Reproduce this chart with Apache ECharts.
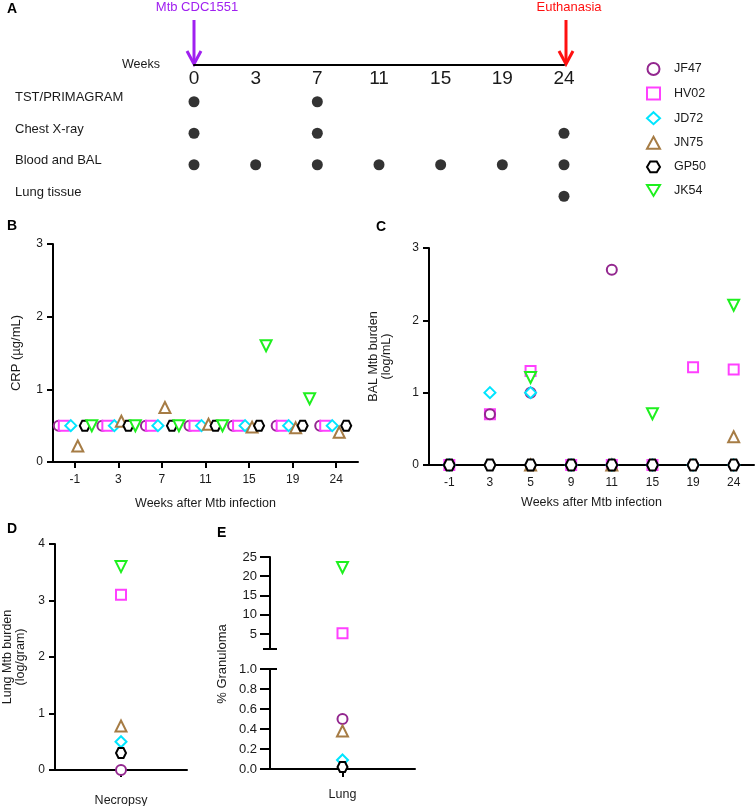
<!DOCTYPE html>
<html>
<head>
<meta charset="utf-8">
<script src="https://cdn.jsdelivr.net/npm/echarts@6/dist/echarts.min.js"></script>
<style>
  html, body { margin: 0; padding: 0; background: #fff; }
  #chart { width: 755px; height: 806px; }
</style>
</head>
<body>
<div id="chart"></div>
<script>
// animals
const animals = ['JF47', 'HV02', 'JD72', 'JN75', 'GP50', 'JK54'];

// A: study timeline
const timelineWeeks = ['0', '3', '7', '11', '15', '19', '24'];
const scheduleRows = ['TST/PRIMAGRAM', 'Chest X-ray', 'Blood and BAL', 'Lung tissue'];
const tstWeeks = ['0', '7'];
const xrayWeeks = ['0', '7', '24'];
const bloodBalWeeks = ['0', '3', '7', '11', '15', '19', '24'];
const lungTissueWeeks = ['24'];

// B: CRP (ug/mL)
const crpWeeks = ['-1', '3', '7', '11', '15', '19', '24'];
const crpJF47 = [0.5, 0.5, 0.5, 0.5, 0.5, 0.5, 0.5];
const crpHV02 = [0.5, 0.5, 0.5, 0.5, 0.5, 0.5, 0.5];
const crpJD72 = [0.5, 0.5, 0.5, 0.5, 0.5, 0.5, 0.5];
const crpJN75 = [0.22, 0.56, 0.75, 0.52, 0.48, 0.47, 0.41];
const crpGP50 = [0.5, 0.5, 0.5, 0.5, 0.5, 0.5, 0.5];
const crpJK54 = [0.5, 0.5, 0.5, 0.5, 1.6, 0.87, null];

// C: BAL Mtb burden (log/mL); null = no mark visible
const balWeeks = ['-1', '3', '5', '9', '11', '15', '19', '24'];
const balJF47 = [0, 0.7, 1.0, 0, 2.7, 0, 0, 0];
const balHV02 = [0, 0.7, 1.3, 0, 0, 0, 1.35, 1.32];
const balJD72 = [0, 1.0, 1.0, 0, 0, 0, 0, 0];
const balJN75 = [null, null, 0, null, 0, null, null, 0.39];
const balGP50 = [0, 0, 0, 0, 0, 0, 0, 0];
const balJK54 = [null, null, 1.21, null, null, 0.71, null, 2.21];

// D: lung Mtb burden (log/gram), order of animals
const lungBurden = [0, 3.1, 0.5, 0.78, 0.3, 3.6];
// E: % granuloma, order of animals
const granuloma = [0.5, 5.2, 0.09, 0.38, 0.02, 22.3];
const granulomaUpperTicks = [5, 10, 15, 20, 25];

// styles
const FONT = 'Liberation Sans, Arial, Helvetica, sans-serif';
const INK = '#1a1a1a';
const HEX = 'path://M3,0 L9,0 L12,5 L9,10 L3,10 L0,5 Z';
const DOWN = 'path://M0,0 L12,0 L6,10 Z';
const animalColors = ['#93278F', '#FF40FF', '#00E5FF', '#A67C45', '#000000', '#1EF01E'];
const animalSymbols = ['circle', 'rect', 'diamond', 'triangle', HEX, DOWN];
const animalSizes = [10, 10, 11, 11, 10, 11];
const crpOffsets = [-16, -11, -4, 3, 10, 17];
const balZ = [5, 2, 6, 3, 7, 4];

const crpData = [crpJF47, crpHV02, crpJD72, crpJN75, crpGP50, crpJK54];
const balData = [balJF47, balHV02, balJD72, balJN75, balGP50, balJK54];

function pairs(cats, vals) {
  return cats.map((c, i) => [c, vals[i]]).filter(p => p[1] != null);
}

function animalSeries(i, data, xi, yi, extra) {
  return Object.assign({
    type: 'scatter',
    name: animals[i],
    data: data,
    xAxisIndex: xi,
    yAxisIndex: yi,
    symbol: animalSymbols[i],
    symbolSize: animalSizes[i],
    itemStyle: { color: '#fff', borderColor: animalColors[i], borderWidth: 2, opacity: 1 },
    emphasis: { disabled: true },
    z: 3
  }, extra || {});
}

function axisBase(extra) {
  return Object.assign({
    axisLine: { show: true, onZero: false, lineStyle: { color: '#000', width: 2 } },
    axisTick: { show: true, length: 6, lineStyle: { color: '#000', width: 2 } },
    axisLabel: { color: INK, fontSize: 12, fontFamily: FONT },
    splitLine: { show: false },
    nameTextStyle: { color: INK, fontSize: 12.5, fontFamily: FONT }
  }, extra);
}

function scheduleSeries(weeks, row) {
  return {
    type: 'scatter',
    data: weeks.map(w => [w, row]),
    xAxisIndex: 0,
    yAxisIndex: 0,
    symbol: 'circle',
    symbolSize: 11,
    itemStyle: { color: '#000' },
    emphasis: { disabled: true }
  };
}

const chart = echarts.init(document.getElementById('chart'));

const series = [
  scheduleSeries(tstWeeks, scheduleRows[0]),
  scheduleSeries(xrayWeeks, scheduleRows[1]),
  scheduleSeries(bloodBalWeeks, scheduleRows[2]),
  scheduleSeries(lungTissueWeeks, scheduleRows[3])
];

animals.forEach((a, i) => {
  series.push(animalSeries(i, pairs(crpWeeks, crpData[i]), 1, 1, { symbolOffset: [crpOffsets[i], 0] }));
});
animals.forEach((a, i) => {
  const extra = { z: balZ[i] };
  if (a === 'GP50') extra.symbolSize = 11;
  series.push(animalSeries(i, pairs(balWeeks, balData[i]), 2, 2, extra));
});
animals.forEach((a, i) => {
  series.push(animalSeries(i, [['Necropsy', lungBurden[i]]], 3, 3));
});
animals.forEach((a, i) => {
  const v = granuloma[i];
  if (v > 1) series.push(animalSeries(i, [['Lung', v]], 4, 4));
  else series.push(animalSeries(i, [['Lung', v]], 5, 5));
});

const option = {
  animation: false,
  backgroundColor: '#fff',
  textStyle: { fontFamily: FONT },
  legend: {
    data: animals,
    orient: 'vertical',
    left: 641,
    top: 57,
    itemWidth: 13,
    itemHeight: 12,
    itemGap: 10.6,
    selectedMode: false,
    textStyle: { color: INK, fontSize: 12.5, fontFamily: FONT, padding: [0, 0, 0, 9] }
  },
  grid: [
    { left: 194, top: 86, width: 370, height: 126, outerBoundsMode: 'none' },
    { left: 53, top: 244, width: 305, height: 218, outerBoundsMode: 'none' },
    { left: 429, top: 248, width: 325, height: 217, outerBoundsMode: 'none' },
    { left: 55, top: 544, width: 132, height: 226, outerBoundsMode: 'none' },
    { left: 270, top: 557, width: 145, height: 92, outerBoundsMode: 'none' },
    { left: 270, top: 669, width: 145, height: 100, outerBoundsMode: 'none' }
  ],
  xAxis: [
    axisBase({
      gridIndex: 0, type: 'category', data: timelineWeeks, position: 'top', offset: 21,
      boundaryGap: false,
      axisTick: { show: false },
      axisLabel: { inside: true, margin: 4, color: INK, fontSize: 19, fontFamily: FONT },
      name: 'Weeks', nameLocation: 'start', nameGap: 34
    }),
    axisBase({
      gridIndex: 1, type: 'category', data: crpWeeks,
      axisTick: { show: true, alignWithLabel: true, length: 6, lineStyle: { color: '#000', width: 2 } },
      axisLabel: { margin: 12, color: INK, fontSize: 12, fontFamily: FONT },
      name: 'Weeks after Mtb infection', nameLocation: 'middle', nameGap: 35
    }),
    axisBase({
      gridIndex: 2, type: 'category', data: balWeeks,
      axisTick: { show: true, alignWithLabel: true, length: 6, lineStyle: { color: '#000', width: 2 } },
      axisLabel: { margin: 12, color: INK, fontSize: 12, fontFamily: FONT },
      name: 'Weeks after Mtb infection', nameLocation: 'middle', nameGap: 31
    }),
    axisBase({
      gridIndex: 3, type: 'category', data: ['Necropsy'],
      axisTick: { show: true, alignWithLabel: true, length: 7, lineStyle: { color: '#000', width: 2 } },
      axisLabel: { margin: 24, color: INK, fontSize: 12.5, fontFamily: FONT }
    }),
    { gridIndex: 4, type: 'category', data: ['Lung'], show: false },
    axisBase({
      gridIndex: 5, type: 'category', data: ['Lung'],
      axisTick: { show: true, alignWithLabel: true, length: 8, lineStyle: { color: '#000', width: 2 } },
      axisLabel: { margin: 19, color: INK, fontSize: 12.5, fontFamily: FONT }
    })
  ],
  yAxis: [
    {
      gridIndex: 0, type: 'category', data: scheduleRows, inverse: true,
      axisLine: { show: false }, axisTick: { show: false }, splitLine: { show: false },
      axisLabel: { align: 'left', verticalAlign: 'bottom', lineHeight: 8, margin: 179, color: INK, fontSize: 13, fontFamily: FONT }
    },
    axisBase({
      gridIndex: 1, type: 'value', min: 0, max: 3, interval: 1,
      axisLabel: { margin: 10, color: INK, fontSize: 12, fontFamily: FONT },
      name: 'CRP (µg/mL)', nameLocation: 'middle', nameGap: 30, nameRotate: 90,
      nameTextStyle: { color: INK, fontSize: 13, fontFamily: FONT }
    }),
    axisBase({
      gridIndex: 2, type: 'value', min: 0, max: 3, interval: 1,
      axisLabel: { margin: 10, color: INK, fontSize: 12, fontFamily: FONT },
      name: 'BAL Mtb burden\n(log/mL)', nameLocation: 'middle', nameGap: 36, nameRotate: 90
    }),
    axisBase({
      gridIndex: 3, type: 'value', min: 0, max: 4, interval: 1,
      axisLabel: { margin: 10, color: INK, fontSize: 12, fontFamily: FONT },
      name: 'Lung Mtb burden\n(log/gram)', nameLocation: 'middle', nameGap: 28, nameRotate: 90
    }),
    axisBase({
      gridIndex: 4, type: 'value', min: 1.1, max: 25,
      axisTick: { show: true, length: 10, customValues: granulomaUpperTicks, lineStyle: { color: '#000', width: 2 } },
      axisLabel: { margin: 13, customValues: granulomaUpperTicks, color: INK, fontSize: 13, fontFamily: FONT }
    }),
    axisBase({
      gridIndex: 5, type: 'value', min: 0, max: 1, interval: 0.2,
      axisTick: { show: true, length: 10, lineStyle: { color: '#000', width: 2 } },
      axisLabel: { margin: 13, color: INK, fontSize: 13, fontFamily: FONT, formatter: v => v.toFixed(1) }
    })
  ],
  series: series
};

chart.setOption(option);

// decorations: panel letters, arrows, axis break
const x0 = chart.convertToPixel({ xAxisIndex: 0 }, '0');
const x24 = chart.convertToPixel({ xAxisIndex: 0 }, '24');
const lineY = 65;

function arrow(x, color) {
  return [
    { type: 'line', shape: { x1: x, y1: 20, x2: x, y2: lineY - 2 }, style: { stroke: color, lineWidth: 3 } },
    { type: 'polyline', shape: { points: [[x - 7, lineY - 14], [x, lineY - 1], [x + 7, lineY - 14]] }, style: { stroke: color, lineWidth: 3, fill: null } }
  ];
}

function letter(t, x, y) {
  return { type: 'text', x: x, y: y, style: { text: t, font: 'bold 14px ' + FONT, fill: '#000' } };
}

const eAxisX = chart.convertToPixel({ gridIndex: 5 }, ['Lung', 0])[0] - 72.5;
const breakTop = chart.convertToPixel({ yAxisIndex: 4 }, 1.1);
const breakBottom = chart.convertToPixel({ yAxisIndex: 5 }, 1);

chart.setOption({
  graphic: [
    letter('A', 7, 2),
    letter('B', 7, 219),
    letter('C', 376, 220),
    letter('D', 7, 522),
    letter('E', 217, 526),
    { type: 'text', x: x0 + 3, y: 7, style: { text: 'Mtb CDC1551', font: '13px ' + FONT, fill: '#A020F0', align: 'center', verticalAlign: 'middle' } },
    { type: 'text', x: x24 + 5, y: 7, style: { text: 'Euthanasia', font: '13px ' + FONT, fill: '#FF1010', align: 'center', verticalAlign: 'middle' } },
    ...arrow(x0, '#A020F0'),
    ...arrow(x24 + 2, '#FF1010'),
    { type: 'line', shape: { x1: eAxisX - 7, y1: breakTop, x2: eAxisX + 7, y2: breakTop }, style: { stroke: '#000', lineWidth: 2 } },
    { type: 'line', shape: { x1: eAxisX - 7, y1: breakBottom, x2: eAxisX + 7, y2: breakBottom }, style: { stroke: '#000', lineWidth: 2 } },
    { type: 'text', x: 222, y: 664, rotation: Math.PI / 2, style: { text: '% Granuloma', font: '13px ' + FONT, fill: INK, align: 'center', verticalAlign: 'middle' } }
  ]
});
</script>
</body>
</html>
